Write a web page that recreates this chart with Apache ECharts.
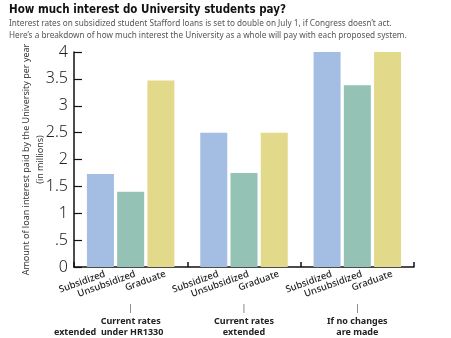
<!DOCTYPE html>
<html>
<head>
<meta charset="utf-8">
<script src="https://cdn.jsdelivr.net/npm/echarts@6/dist/echarts.min.js"></script>
<style>
  html, body { margin: 0; padding: 0; background: #fff; }
  #chart { width: 451px; height: 338px; }
</style>
</head>
<body>
<div id="chart"></div>
<script>
// Loan programs drawn as side-by-side bars within each proposal
const groups = ['Current rates extended under HR1330', 'Current rates extended', 'If no changes are made'];
const subsidized = [1.73, 2.5, 4.0];
const unsubsidized = [1.4, 1.75, 3.38];
const graduate = [3.47, 2.5, 4.0];
const yTickLabels = { 0: '0', 0.5: '.5', 1: '1', 1.5: '1.5', 2: '2', 2.5: '2.5', 3: '3', 3.5: '3.5', 4: '4' };

// Two-line group captions under the axis, with a small marker above each
const groupCaptions = [
  '{mark||}\n{t|Current rates}\n{t2|extended  under HR1330}',
  '{mark||}\n{t|Current rates}\n{t|extended}',
  '{mark||}\n{t|If no changes}\n{t|are made}'
];

const colors = ['#a3bde3', '#94c3b6', '#e3d98b'];
const seriesDefs = [
  { name: 'Subsidized', data: subsidized },
  { name: 'Unsubsidized', data: unsubsidized },
  { name: 'Graduate', data: graduate }
];

const chart = echarts.init(document.getElementById('chart'), null, { renderer: 'canvas' });

chart.setOption({
  animation: false,
  backgroundColor: '#fff',
  title: {
    text: 'How much interest do University students pay?',
    subtext: 'Interest rates on subsidized student Stafford loans is set to double on July 1, if Congress doesn\u2019t act.\nHere\u2019s a breakdown of how much interest the University as a whole will pay with each proposed system.',
    left: 4,
    top: -1,
    itemGap: 2,
    textStyle: { fontFamily: '"DejaVu Sans Condensed", "Liberation Sans"', fontWeight: 'bold', fontSize: 11.5, color: '#111' },
    subtextStyle: { fontFamily: 'Noto Sans', fontSize: 8.2, color: '#555', lineHeight: 11.5 }
  },
  grid: { left: 74, right: 37, top: 52, bottom: 71, containLabel: false },
  xAxis: {
    type: 'category',
    data: groups,
    axisLine: { lineStyle: { color: '#111', width: 1.5 } },
    axisTick: { show: true, inside: true, length: 5, interval: 0, lineStyle: { color: '#111', width: 1.5 } },
    axisLabel: {
      interval: 0,
      margin: 34,
      formatter: (v, i) => groupCaptions[i],
      rich: {
        mark: { fontFamily: 'Noto Sans', fontSize: 8, color: '#444', lineHeight: 15 },
        t: { fontFamily: 'Noto Sans', fontWeight: 'bold', fontSize: 9, color: '#222', lineHeight: 11 },
        t2: { fontFamily: 'Noto Sans', fontWeight: 'bold', fontSize: 9, color: '#222', lineHeight: 11, padding: [0, 44, 0, 0] }
      }
    }
  },
  yAxis: {
    type: 'value',
    min: 0,
    max: 4,
    interval: 0.5,
    name: 'Amount of loan interest paid by the University per year\n(in millions)',
    nameLocation: 'middle',
    nameGap: 27,
    nameMoveOverlap: false,
    nameTextStyle: { fontFamily: 'Noto Sans', fontSize: 9, color: '#333', lineHeight: 14 },
    axisLine: { show: true, lineStyle: { color: '#111', width: 1.5 } },
    axisTick: { show: true, inside: true, length: 8, lineStyle: { color: '#111', width: 1.2 } },
    splitLine: { show: false },
    axisLabel: {
      margin: 6,
      fontFamily: 'Noto Sans',
      fontSize: 16,
      fontWeight: 300,
      color: '#222',
      formatter: v => yTickLabels[v] !== undefined ? yTickLabels[v] : String(v)
    }
  },
  series: seriesDefs.map((s, i) => ({
    name: s.name,
    type: 'bar',
    data: s.data,
    barWidth: 27,
    barGap: '12%',
    itemStyle: { color: colors[i] },
    label: {
      show: true,
      position: 'bottom',
      distance: 3,
      offset: [3, 0],
      rotate: 20,
      align: 'right',
      verticalAlign: 'top',
      formatter: '{a}',
      fontFamily: 'Noto Sans',
      fontSize: 9.5,
      fontWeight: 500,
      color: '#222'
    }
  }))
});
</script>
</body>
</html>
